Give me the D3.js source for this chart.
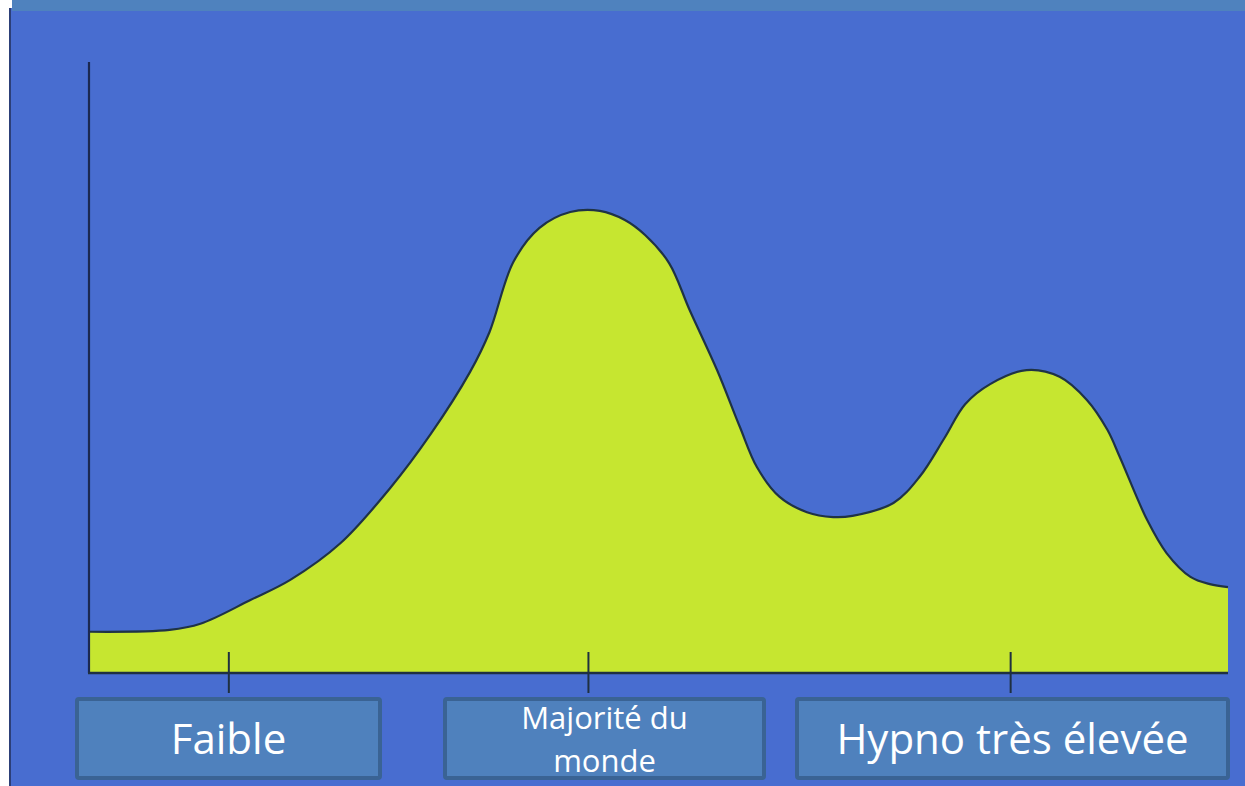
<!DOCTYPE html>
<html lang="fr">
<head>
  <meta charset="UTF-8">
  <title>Distribution de l'hypnotisabilité</title>
  <script src="https://d3js.org/d3.v7.min.js"></script>
  <style>
    body {
      margin: 0;
      background: #ffffff;
      overflow: hidden;
    }
    svg {
      display: block;
    }
    .label {
      font-family: "Open Sans", sans-serif;
      fill: #ffffff;
    }
  </style>
</head>
<body>
<svg width="1245" height="786"></svg>

<script>
// Courbe (unités arbitraires : x de 0 à 100, y de 0 à 100)
const curveX = [0, 7.0, 9.7, 14.1, 17.6, 22.0, 26.4, 29.9, 33.4, 35.1, 37.2, 39.5, 42.2, 44.8, 47.0,
                48.8, 50.9, 52.7, 55.1, 57.1, 58.6, 60.6, 63.0, 65.3, 67.0, 70.6, 72.9, 75.1, 76.9,
                79.1, 82.3, 85.2, 87.6, 89.4, 90.5, 92.9, 94.6, 96.7, 98.4, 100];
const curveY = [6.6, 6.9, 7.9, 11.8, 15.1, 21.1, 30.2, 38.9, 49.2, 55.7, 67.2, 72.8, 75.4, 75.6, 74.1,
                71.6, 67.0, 59.3, 49.5, 40.2, 33.6, 28.7, 26.2, 25.4, 25.6, 27.7, 32.0, 38.4, 43.9,
                47.2, 49.5, 48.4, 44.6, 39.7, 35.2, 24.9, 19.5, 15.6, 14.4, 13.9];

// Catégories sur l'axe horizontal
const categories = ["Faible", "Majorité du monde", "Hypno très élevée"];
const tickPos = [12.2, 43.8, 80.9];

const points = curveX.map((x, i) => ({x: x, y: curveY[i]}));

const svg = d3.select("svg"),
      W = +svg.attr("width"),
      H = +svg.attr("height");

// fond
svg.append("rect").attr("x", 0).attr("y", 0).attr("width", W).attr("height", H).attr("fill", "#ffffff");
svg.append("rect").attr("x", 9).attr("y", 8).attr("width", W - 9).attr("height", H - 8).attr("fill", "#2c3f78");
svg.append("rect").attr("x", 11).attr("y", 8).attr("width", W - 11).attr("height", H - 8).attr("fill", "#486dd0");
svg.append("rect").attr("x", 12).attr("y", 0).attr("width", W - 12).attr("height", 11).attr("fill", "#4f82be");

const x = d3.scaleLinear().domain([0, 100]).range([90, 1228]);
const y = d3.scaleLinear().domain([0, 100]).range([672, 62]);

const area = d3.area()
  .x(d => x(d.x))
  .y0(y(0))
  .y1(d => y(d.y))
  .curve(d3.curveCatmullRom.alpha(0.5));

const line = d3.line()
  .x(d => x(d.x))
  .y(d => y(d.y))
  .curve(d3.curveCatmullRom.alpha(0.5));

svg.append("path")
  .datum(points)
  .attr("fill", "#c6e630")
  .attr("d", area);

svg.append("path")
  .datum(points)
  .attr("fill", "none")
  .attr("stroke", "#1f3346")
  .attr("stroke-width", 2.2)
  .attr("d", line);

// axes
svg.append("line")
  .attr("x1", x(0) - 1).attr("x2", x(0) - 1)
  .attr("y1", y(100)).attr("y2", y(0) + 1)
  .attr("stroke", "#1b2850").attr("stroke-width", 2.2);

svg.append("line")
  .attr("x1", x(0) - 2).attr("x2", x(100))
  .attr("y1", y(0) + 1).attr("y2", y(0) + 1)
  .attr("stroke", "#1f3040").attr("stroke-width", 2.5);

// graduations
svg.selectAll(".tick")
  .data(tickPos)
  .enter().append("line")
  .attr("class", "tick")
  .attr("x1", d => x(d)).attr("x2", d => x(d))
  .attr("y1", 652).attr("y2", 693)
  .attr("stroke", "#1f3040").attr("stroke-width", 2);

// boîtes des catégories
const boxes = [
  {x0: 75, x1: 382, size: 42, lines: ["Faible"]},
  {x0: 443, x1: 766, size: 31, lines: ["Majorité du", "monde"]},
  {x0: 795, x1: 1230, size: 42, lines: ["Hypno très élevée"]}
];

boxes.forEach((b, i) => {
  const g = svg.append("g");
  g.append("rect")
    .attr("x", b.x0 + 2).attr("y", 699)
    .attr("width", b.x1 - b.x0 - 4).attr("height", 79)
    .attr("rx", 2)
    .attr("fill", "#4f81bd")
    .attr("stroke", "#3a6394")
    .attr("stroke-width", 4);
  const cx = (b.x0 + b.x1) / 2;
  if (b.lines.length === 1) {
    g.append("text")
      .attr("class", "label")
      .attr("x", cx).attr("y", 754)
      .attr("text-anchor", "middle")
      .style("font-size", b.size + "px")
      .text(categories[i]);
  } else {
    b.lines.forEach((t, j) => {
      g.append("text")
        .attr("class", "label")
        .attr("x", cx).attr("y", 729 + j * 43)
        .attr("text-anchor", "middle")
        .style("font-size", b.size + "px")
        .text(t);
    });
  }
});
</script>
</body>
</html>
